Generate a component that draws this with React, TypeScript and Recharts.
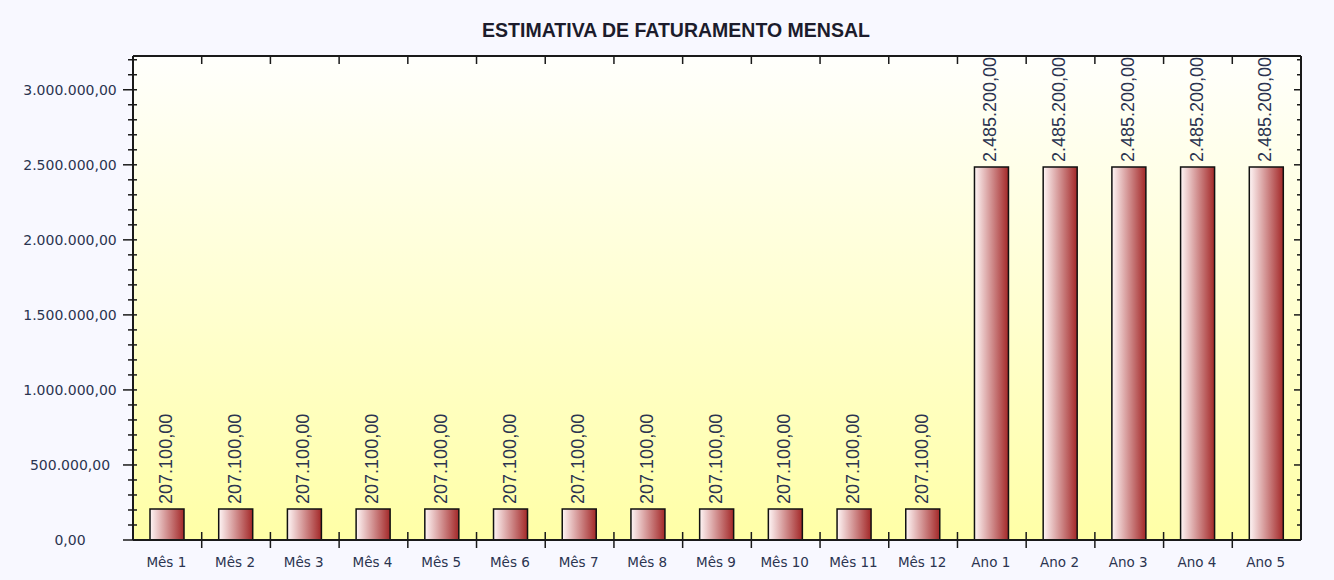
import React from 'react';
import { BarChart, Bar, XAxis, YAxis, CartesianGrid, LabelList } from 'recharts';

const categories = ['Mês 1', 'Mês 2', 'Mês 3', 'Mês 4', 'Mês 5', 'Mês 6', 'Mês 7', 'Mês 8', 'Mês 9', 'Mês 10', 'Mês 11', 'Mês 12', 'Ano 1', 'Ano 2', 'Ano 3', 'Ano 4', 'Ano 5'];
const values = [207100, 207100, 207100, 207100, 207100, 207100, 207100, 207100, 207100, 207100, 207100, 207100, 2485200, 2485200, 2485200, 2485200, 2485200];
const majorTicks = [0, 500000, 1000000, 1500000, 2000000, 2500000, 3000000];
const allTicks = [0, 100000, 200000, 300000, 400000, 500000, 600000, 700000, 800000, 900000, 1000000, 1100000, 1200000, 1300000, 1400000, 1500000, 1600000, 1700000, 1800000, 1900000, 2000000, 2100000, 2200000, 2300000, 2400000, 2500000, 2600000, 2700000, 2800000, 2900000, 3000000, 3100000, 3200000];
const yMax = 3225000;
const title = 'ESTIMATIVA DE FATURAMENTO MENSAL';

const data = categories.map((name, i) => ({ name, value: values[i] }));

function fmt(n: number): string {
  const s = Math.round(n).toString();
  const withDots = s.replace(/\B(?=(\d{3})+(?!\d))/g, '.');
  return withDots + ',00';
}

const AXIS = '#1a1a1a';
const TEXT = '#2b3450';

const LeftTick = (props: any) => {
  const { x, y, payload } = props;
  const major = majorTicks.includes(payload.value);
  return (
    <g>
      <line x1={x - (major ? 10 : 5)} x2={x + 4} y1={y} y2={y} stroke={AXIS} strokeWidth={1.5} />
      {major && (
        <text x={70} y={y} textAnchor="middle" dominantBaseline="central" fontFamily="DejaVu Sans" fontSize={14} fill={TEXT}>
          {fmt(payload.value)}
        </text>
      )}
    </g>
  );
};

const RightTick = (props: any) => {
  const { x, y, payload } = props;
  const major = majorTicks.includes(payload.value);
  return <line x1={x - (major ? 7 : 4)} x2={x} y1={y} y2={y} stroke={AXIS} strokeWidth={1.5} />;
};

const BAND_FALLBACK = 1168 / 17;

const BottomTick = (props: any) => {
  const { x, y, payload, index } = props;
  const half = payload && payload.offset ? payload.offset : BAND_FALLBACK / 2;
  const last = index === categories.length - 1;
  return (
    <g>
      {!last && <line x1={x + half} x2={x + half} y1={y - 8} y2={y + 8} stroke={AXIS} strokeWidth={1.5} />}
      <text x={x - 1} y={y + 27} textAnchor="middle" fontFamily="DejaVu Sans" fontSize={13.5} fill={TEXT}>
        {payload.value}
      </text>
    </g>
  );
};

const TopTick = (props: any) => {
  const { x, y, payload, index } = props;
  const half = payload && payload.offset ? payload.offset : BAND_FALLBACK / 2;
  const last = index === categories.length - 1;
  return !last ? <line x1={x + half} x2={x + half} y1={y} y2={y + 8} stroke={AXIS} strokeWidth={1.5} /> : <g />;
};

const ValueLabel = (props: any) => {
  const { x, y, width, value } = props;
  const cx = x + width / 2 - 1;
  const ty = y - 5;
  return (
    <text
      x={cx}
      y={ty}
      transform={`rotate(-90 ${cx} ${ty})`}
      textAnchor="start"
      dominantBaseline="central"
      fontFamily="Liberation Sans"
      fontSize={18}
      fill={TEXT}
    >
      {fmt(value)}
    </text>
  );
};

export default function App() {
  return (
    <div style={{ position: 'absolute', left: 0, top: 0, width: 1334, height: 580, background: '#F8F8FF' }}>
      <svg style={{ position: 'absolute', left: 0, top: 0 }} width={1334} height={56}>
        <text x={676} y={37} textAnchor="middle" fontFamily="Liberation Sans" fontWeight="bold" fontSize={19.5} fill="#1c1c2c">
          {title}
        </text>
      </svg>
      <div style={{ position: 'absolute', left: 0, top: 0 }}>
        <BarChart width={1334} height={580} data={data} margin={{ top: 0, right: 0, bottom: 0, left: 0 }}>
          <defs>
            <linearGradient id="bgGrad" x1="0" y1="0" x2="0" y2="1">
              <stop offset="0%" stopColor="#FFFFFC" />
              <stop offset="50%" stopColor="#FFFFD2" />
              <stop offset="100%" stopColor="#FFFFA6" />
            </linearGradient>
            <linearGradient id="barGrad" x1="0" y1="0" x2="1" y2="0">
              <stop offset="0%" stopColor="#FFF6F6" />
              <stop offset="100%" stopColor="#A32828" />
            </linearGradient>
          </defs>
          <CartesianGrid fill="url(#bgGrad)" horizontal={false} vertical={false} xAxisId="cat" />
          <XAxis xAxisId="cat" dataKey="name" orientation="bottom" height={40} tickSize={0} tickMargin={0} tick={<BottomTick />} axisLine={{ stroke: AXIS, strokeWidth: 2 }} tickLine={false} interval={0} />
          <XAxis xAxisId="top" dataKey="name" orientation="top" height={56} tickSize={0} tickMargin={0} tick={<TopTick />} axisLine={{ stroke: AXIS, strokeWidth: 2 }} tickLine={false} interval={0} />
          <YAxis yAxisId="left" orientation="left" width={133} domain={[0, yMax]} ticks={allTicks} allowDataOverflow tickSize={0} tickMargin={0} tick={<LeftTick />} axisLine={{ stroke: AXIS, strokeWidth: 2 }} tickLine={false} interval={0} />
          <YAxis yAxisId="right" orientation="right" width={33} domain={[0, yMax]} ticks={allTicks} allowDataOverflow tickSize={0} tickMargin={0} tick={<RightTick />} axisLine={{ stroke: AXIS, strokeWidth: 2 }} tickLine={false} interval={0} />
          <Bar xAxisId="cat" yAxisId="left" dataKey="value" barSize={34} fill="url(#barGrad)" stroke="#111" strokeWidth={1.5} isAnimationActive={false}>
            <LabelList dataKey="value" content={<ValueLabel />} />
          </Bar>
        </BarChart>
      </div>
    </div>
  );
}
